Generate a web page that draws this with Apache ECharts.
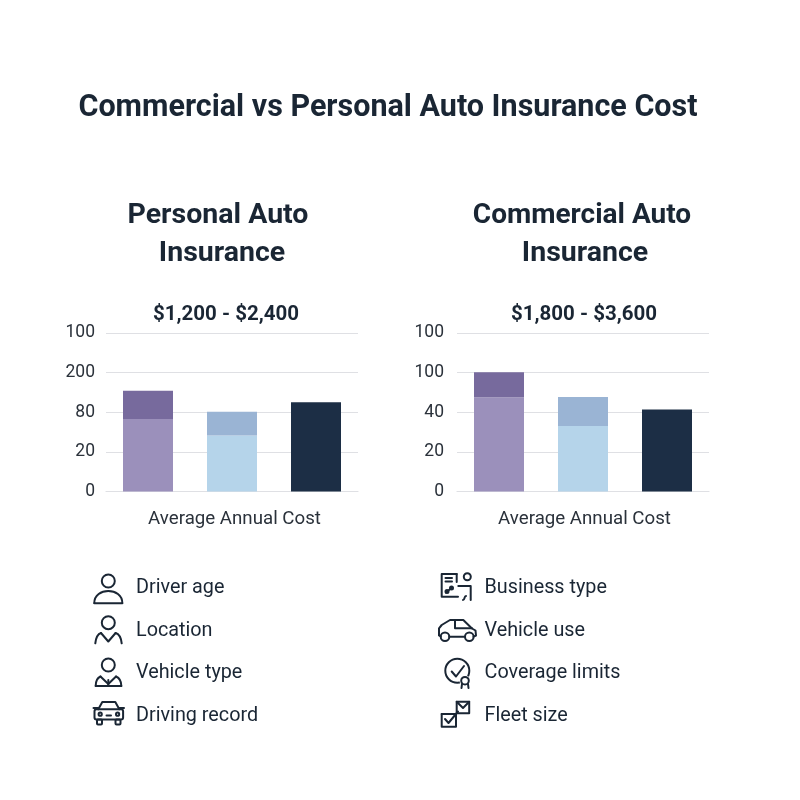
<!DOCTYPE html>
<html><head><meta charset="utf-8">
<style>html,body{margin:0;padding:0;background:#fff}#c{width:800px;height:800px}</style>
<script src="https://cdn.jsdelivr.net/npm/echarts@6/dist/echarts.min.js"></script>
</head><body><div id="c"></div>
<script>
const categories = ['A', 'B', 'C'];
const personalBase = [45.8, 35.3, 56.3];
const personalTop = [17.8, 15.1, 0];
const commercialBase = [59.5, 41.4, 51.7];
const commercialTop = [15.7, 18.2, 0];
const personalTicks = ['0', '20', '80', '200', '100'];
const commercialTicks = ['0', '20', '40', '100', '100'];
const baseColors = ['#9b90bb', '#b5d4ea', '#1c2e45'];
const topColors = ['#776a9d', '#9ab4d4', '#1c2e45'];
const personalFactors = ['Driver age', 'Location', 'Vehicle type', 'Driving record'];
const commercialFactors = ['Business type', 'Vehicle use', 'Coverage limits', 'Fleet size'];
const xName = 'Average Annual Cost';

const INK = '#1a2634';
const FONT = 'Roboto';
const chart = echarts.init(document.getElementById('c'));

function heading(text, x, y, size, weight) {
  return { text, left: x, top: y, textAlign: 'center', padding: 0,
    textStyle: { fontFamily: FONT, fontSize: size, fontWeight: weight || 'bold', color: INK, lineHeight: 38 } };
}
const st = { fill: null, stroke: INK, lineWidth: 2, lineCap: 'round', lineJoin: 'round' };
const C = (cx, cy, r, fill) => ({ type: 'circle', shape: { cx, cy, r }, style: { ...st, fill: fill || null } });
const P = (...pts) => ({ type: 'polyline', shape: { points: pts }, style: st });
const B = (x1, y1, cpx1, cpy1, cpx2, cpy2, x2, y2) => ({ type: 'bezierCurve', shape: { x1, y1, cpx1, cpy1, cpx2, cpy2, x2, y2 }, style: st });
const R = (x, y, width, height, r) => ({ type: 'rect', shape: { x, y, width, height, r: r || 0 }, style: st });

const icons = [
  // driver age
  C(108.3, 581, 6.5),
  B(94.3, 603, 94.3, 587, 122.3, 587, 122.3, 603), P([94.3, 603.3], [122.3, 603.3]),
  // location
  C(108.3, 622.7, 6.5),
  B(95.3, 643.3, 96, 637, 98, 634, 101, 633), P([101, 633], [108.3, 641.5], [115.6, 633]),
  B(115.6, 633, 119, 634, 121, 637, 121.7, 643.3),
  // vehicle type
  C(108.3, 665, 6.5),
  B(95.7, 686, 95.7, 681, 97, 678, 100.5, 676.5), P([100.5, 676.5], [108.3, 684], [116, 676.5]),
  B(116, 676.5, 119.5, 678, 121.3, 681, 121.3, 686), P([95.7, 686], [121.3, 686]), P([108.3, 680], [108.3, 686]),
  // car front
  P([98.3, 709.3], [102.3, 702], [115.3, 702], [119.3, 709.3]),
  R(94.5, 709.3, 28.6, 10.2, 2),
  P([93.5, 708], [98.3, 708]), P([119.3, 708], [124, 708]),
  R(97, 719.5, 5, 5, 1), R(115.5, 719.5, 5, 5, 1),
  C(100.2, 714.2, 1.6), C(117.6, 714.2, 1.6), P([106.5, 715.5], [111, 715.5]),
  // business type
  P([456.7, 574], [441.7, 574], [441.7, 596.7], [458, 596.7]), P([456.7, 574], [456.7, 582]),
  P([445.5, 578], [452, 578]), P([445.5, 581.5], [452, 581.5]),
  P([446, 592.5], [452, 587.5]), C(447, 591.5, 1.5), C(451.5, 588, 1.5),
  C(467.3, 576.7, 3.5),
  P([458.3, 586], [470.7, 586], [470.7, 600]),
  B(463, 600, 465, 600, 464, 596, 466, 596),
  // vehicle use
  C(445, 636.7, 4.3), C(469.3, 636.7, 4.3),
  P([440.7, 636.5], [439, 635.5], [439, 628.3], [441.7, 625], [450, 620], [463.3, 620], [472, 628.5], [475.5, 630.5], [476, 635.5], [473.6, 636.7]),
  P([449.3, 636.7], [465, 636.7]),
  P([455, 620], [455, 628.3], [472, 628.3]),
  // coverage limits
  C(457.3, 670.7, 12),
  P([451.7, 671.5], [456, 676.5], [464, 666]),
  { type: 'circle', shape: { cx: 465, cy: 680.7, r: 5.5 }, style: { fill: '#fff', stroke: null } },
  C(465, 680.7, 3.8),
  P([462, 684], [461.5, 688]), P([468, 684], [468.5, 688]),
  // fleet size
  R(441.7, 714, 14.3, 12.7), R(456.7, 701.7, 12.5, 11.6),
  P([456.7, 701.7], [463, 708], [469.2, 701.7]),
  P([445, 719], [448.5, 723], [458, 711.5]),
  P([441.7, 714], [448, 714])
];

function factorTexts(list, x) {
  const ys = [588, 631, 673, 716];
  return list.map((t, i) => ({
    type: 'text', x, y: ys[i],
    style: { text: t, font: '400 19.8px ' + FONT, fill: INK, textAlign: 'left', textVerticalAlign: 'middle' }
  }));
}
function yAxis(gridIndex, ticks, margin) {
  return {
    type: 'value', gridIndex, min: 0, max: 100, interval: 25,
    axisLine: { show: false }, axisTick: { show: false },
    splitLine: { show: true, lineStyle: { color: '#dfe0e4', width: 1.2 } },
    axisLabel: { margin, padding: [3, 0, 0, 0], fontFamily: FONT, fontSize: 17.5, color: '#2b323b', formatter: (v, i) => ticks[i] }
  };
}
function xAxis(gridIndex, padLeft) {
  return {
    type: 'category', gridIndex, data: categories,
    axisLine: { show: true, lineStyle: { color: '#dfe0e4', width: 1.2 } },
    axisTick: { show: false }, axisLabel: { show: false },
    name: xName, nameLocation: 'middle', nameGap: 18,
    nameTextStyle: { fontFamily: FONT, fontSize: 18.7, color: '#2b323b', padding: [0, 0, 0, padLeft] }
  };
}
function bars(name, idx, stack, values, colors) {
  return {
    type: 'bar', name, xAxisIndex: idx, yAxisIndex: idx, stack, barWidth: 50,
    data: values.map((v, i) => ({ value: v, itemStyle: { color: colors[i] } })),
    animation: false
  };
}
chart.setOption({
  animation: false,
  backgroundColor: '#fff',
  title: [
    heading('Commercial vs Personal Auto Insurance Cost', 388, 89, 30.5),
    heading('Personal Auto', 218, 197, 28.5),
    heading('Insurance', 222, 235, 28.5),
    heading('Commercial Auto', 582, 197, 28),
    heading('Insurance', 585, 235, 28.5),
    heading('$1,200 - $2,400', 226, 296, 20.5),
    heading('$1,800 - $3,600', 584, 296, 20.5)
  ],
  grid: [
    { left: 106, top: 333, width: 252, height: 158.6 },
    { left: 457, top: 333, width: 252, height: 158.6 }
  ],
  xAxis: [xAxis(0, 5), xAxis(1, 3)],
  yAxis: [yAxis(0, personalTicks, 11), yAxis(1, commercialTicks, 13)],
  series: [
    bars('Personal base', 0, 'p', personalBase, baseColors),
    bars('Personal top', 0, 'p', personalTop, topColors),
    bars('Commercial base', 1, 'c', commercialBase, baseColors),
    bars('Commercial top', 1, 'c', commercialTop, topColors)
  ],
  graphic: { elements: [
    ...icons.map(e => ({ ...e, silent: true })),
    ...factorTexts(personalFactors, 136),
    ...factorTexts(commercialFactors, 484.5)
  ] }
});
</script></body></html>
